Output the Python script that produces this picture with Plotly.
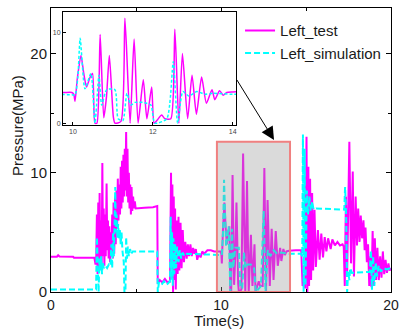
import plotly.graph_objects as go

# ---------------- data ----------------
test_time = [
    0.00, 0.35, 0.42, 0.50, 1.30, 1.35, 2.55, 2.62, 2.66,
    2.70, 2.74, 2.78, 2.82, 2.86, 2.90, 2.94, 2.98, 3.02, 3.06, 3.10, 3.14, 3.18, 3.22,
    3.27, 3.31, 3.35, 3.39, 3.43, 3.47, 3.52, 3.56, 3.60, 3.64, 3.68, 3.72, 3.77, 3.81,
    3.85, 3.89, 3.93, 3.97, 4.01, 4.06, 4.10, 4.14, 4.18, 4.22, 4.26, 4.30, 4.34, 4.38,
    4.42, 4.46, 4.50, 4.54, 4.58, 4.62, 4.66, 4.70, 4.74, 4.78, 4.83, 4.88, 4.93, 4.98,
    5.10, 5.50, 6.00, 6.25, 6.28, 6.40, 6.55, 6.70, 6.85, 6.98,
    7.00, 7.03, 7.06, 7.10, 7.14, 7.18, 7.22, 7.26, 7.30, 7.34, 7.40, 7.45, 7.50, 7.55,
    7.62, 7.68, 7.75, 7.82, 7.90, 7.98, 8.05, 8.12, 8.20, 8.28, 8.36, 8.44, 8.52, 8.60,
    8.70, 8.80, 8.90, 9.00, 9.20, 9.40, 9.60, 9.80, 9.97,
    10.02, 10.05, 10.11, 10.20, 10.27, 10.34, 10.42, 10.49, 10.55, 10.60, 10.68, 10.77,
    10.84, 10.91, 11.01, 11.05, 11.20, 11.30, 11.43, 11.53, 11.63, 11.76, 11.85, 11.97,
    12.03, 12.10, 12.22, 12.30, 12.45, 12.55, 12.65, 12.74, 12.87, 12.98, 13.09, 13.22,
    13.34, 13.48, 13.55, 13.67, 13.76, 13.85, 14.00, 14.40, 14.72,
    14.80, 14.88, 14.95, 15.03, 15.08, 15.14, 15.18, 15.24, 15.30, 15.36, 15.42, 15.50,
    15.58, 15.70, 15.80, 15.90, 16.00, 16.10, 16.20, 16.30, 16.45, 16.55, 16.70, 16.85,
    17.00, 17.15, 17.22, 17.28, 17.35, 17.42, 17.55, 17.65, 17.75, 17.82, 17.92, 18.00,
    18.07, 18.15, 18.22, 18.30, 18.38, 18.45, 18.50, 18.58, 18.65, 18.72, 18.80, 18.85,
    18.92, 18.98, 19.05, 19.12, 19.20, 19.28, 19.36, 19.44, 19.52, 19.60, 19.68, 19.76,
    19.85, 19.92, 20.00,
]
test_pressure = [
    2.96, 2.96, 3.08, 2.97, 2.95, 2.87, 2.87, 2.3, 2.9,
    6.5, 1.5, 7.5, 1.8, 8.3, 2.5, 6.0, 2.0, 10.8, 3.0, 7.0, 2.2, 6.5, 3.0,
    9.1, 3.5, 6.0, 2.8, 5.5, 2.5, 5.0, 3.0, 6.5, 2.8, 7.5, 3.2, 8.0, 4.0,
    8.5, 5.5, 9.5, 6.0, 9.0, 6.5, 10.5, 7.0, 11.0, 7.5, 11.5, 8.0, 12.0, 8.5,
    13.4, 8.0, 12.0, 7.5, 10.0, 7.0, 9.0, 6.5, 8.8, 6.8, 8.0, 7.0, 7.6, 7.0,
    7.0, 7.05, 7.1, 7.2, 0.7, 1.0, 0.8, 1.1, 0.8, 0.9,
    0.8, 4.0, 10.0, 2.0, 9.0, 0.0, 8.0, 1.0, 7.0, 0.2, 6.0, 1.5, 6.3, 1.8,
    5.8, 2.0, 5.2, 2.5, 4.2, 2.8, 4.0, 3.0, 4.0, 3.0, 3.7, 3.2, 3.6, 2.7,
    3.2, 2.9, 3.4, 3.2, 3.5, 3.5, 3.4, 3.4, 3.4,
    3.2, 2.4, 5.0, 7.5, 5.5, 4.0, 5.0, 5.5, 0.0, 0.0, 9.8, 0.6,
    3.0, 7.5, 0.7, 0.0, 0.2, 11.6, 0.0, 9.3, 0.0, 4.8, 0.5, 4.0,
    0.0, 0.3, 0.9, 0.5, 0.5, 10.4, 0.0, 7.7, 0.5, 5.3, 1.0, 5.1,
    2.2, 3.7, 2.6, 3.6, 3.1, 3.4, 3.45, 3.5, 3.5,
    0.5, 1.0, 0.3, 13.0, 0.0, 10.5, 0.5, 9.5, 1.0, 8.3, 1.8, 6.9,
    2.1, 5.2, 2.7, 4.9, 2.9, 4.6, 3.4, 4.5, 3.6, 4.4, 3.9, 4.2,
    3.9, 4.0, 3.8, 0.5, 8.0, 1.5, 12.6, 2.4, 10.1, 1.3, 8.0, 3.9,
    7.0, 4.2, 6.4, 4.5, 6.0, 3.5, 5.4, 2.5, 4.0, 0.5, 3.0, 0.4,
    5.1, 0.5, 4.5, 1.0, 3.7, 1.0, 3.0, 1.2, 3.4, 1.5, 2.7, 1.6,
    2.4, 1.8, 2.0,
]

sim_time = [
    0.00, 2.65,
    2.70, 2.75, 2.80, 2.85, 2.90, 2.95, 3.00, 3.05, 3.10, 3.20, 3.30, 3.40, 3.50,
    3.55, 3.60, 3.65, 3.70, 3.78, 3.82, 3.86, 3.90, 3.95, 4.00, 4.05, 4.10, 4.15,
    4.20, 4.28, 4.32, 4.38, 4.42, 4.47, 4.52, 4.58, 4.65, 4.72, 4.80, 5.00, 6.25,
    6.28, 6.35, 6.50, 6.65, 6.80, 6.95,
    7.00, 7.04, 7.08, 7.12, 7.16, 7.20, 7.25, 7.30, 7.36, 7.42, 7.50, 7.58, 7.66,
    7.75, 7.85, 8.00, 9.00, 9.97,
    10.05, 10.12, 10.18, 10.30, 10.45, 10.55, 10.65, 10.72, 10.84, 11.05, 11.13,
    11.25, 11.35, 11.45, 11.55, 11.75, 11.95, 12.05, 12.35, 12.51, 12.62, 12.75,
    12.90, 13.10, 13.30, 13.50, 14.00, 14.70,
    14.78, 14.82, 14.86, 14.92, 14.97, 15.05, 15.12, 15.20, 15.28, 15.35, 15.45,
    15.60, 17.20, 17.25, 17.30, 17.36, 17.42, 17.48, 17.55, 17.60, 17.70, 18.60,
    18.75, 18.82, 18.88, 18.95, 19.02, 19.10, 19.18, 19.28, 19.40, 19.55, 19.75, 20.00,
]
sim_pressure = [
    0.2, 0.2,
    4.6, 2.5, 0.0, 2.8, 1.8, 3.0, 1.5, 2.5, 2.0, 2.2, 2.0, 2.3, 2.2,
    4.0, 2.0, 5.0, 3.0, 8.8, 5.0, 6.5, 4.5, 5.7, 4.5, 5.2, 4.0, 5.0,
    3.5, 2.5, 0.0, 0.0, 4.6, 2.8, 3.8, 3.0, 3.6, 3.2, 3.4, 3.4, 3.4,
    0.0, 0.8, 0.6, 0.9, 0.6, 0.8,
    0.9, 6.3, 1.0, 5.0, 0.5, 4.5, 1.5, 4.0, 2.0, 3.8, 2.5, 3.5, 2.8,
    3.3, 3.0, 3.2, 3.15, 3.15,
    3.1, 5.0, 9.4, 3.8, 5.5, 0.0, 5.3, 2.0, 3.7, 3.7, 0.5,
    0.3, 3.3, 2.0, 2.3, 2.3, 2.0, 0.0, 0.5, 6.8, 0.0, 3.5,
    3.0, 3.5, 3.2, 3.3, 3.2, 3.2,
    3.0, 13.2, 0.0, 12.0, 0.5, 8.5, 6.5, 8.0, 6.8, 7.6, 6.9,
    7.0, 6.95, 6.9, 8.8, 6.5, 0.0, 1.7, 1.0, 2.0, 1.6, 1.65,
    1.7, 3.5, 0.2, 3.0, 0.5, 2.5, 1.3, 2.2, 1.7, 2.0, 1.9, 2.0,
]

series_names = ["Left_test", "Left_simulation"]
x_ticks = [0, 10, 20]
y_ticks = [0, 10, 20]
inset_x_ticks = [10, 12, 14]
inset_y_ticks = [0, 10]

MAGENTA = "#ff00ff"
CYAN = "#00ffff"
FONT = "Liberation Sans, Arial, sans-serif"

fig = go.Figure()

# main traces
fig.add_trace(go.Scatter(x=test_time, y=test_pressure, mode="lines", name=series_names[0],
                         line=dict(color=MAGENTA, width=2), xaxis="x", yaxis="y"))
fig.add_trace(go.Scatter(x=sim_time, y=sim_pressure, mode="lines", name=series_names[1],
                         line=dict(color=CYAN, width=2, dash="6px,3px"), xaxis="x", yaxis="y"))
# inset traces (same data, zoomed axes)
fig.add_trace(go.Scatter(x=test_time, y=test_pressure, mode="lines", showlegend=False,
                         line=dict(color=MAGENTA, width=1.5, shape="spline", smoothing=0.6),
                         xaxis="x2", yaxis="y2"))
fig.add_trace(go.Scatter(x=sim_time, y=sim_pressure, mode="lines", showlegend=False,
                         line=dict(color=CYAN, width=1.5, dash="3px,2px", shape="spline",
                                   smoothing=0.6),
                         xaxis="x2", yaxis="y2"))

axis_common = dict(showline=True, linecolor="black", linewidth=1, showgrid=False,
                   zeroline=False, ticks="inside", tickcolor="black", automargin=False)

fig.update_layout(
    width=404, height=331,
    margin=dict(l=51, r=13, t=8, b=39),
    paper_bgcolor="white", plot_bgcolor="white",
    font=dict(family=FONT, color="#1a1a1a"),
    xaxis=dict(domain=[0, 1], range=[0, 20], tickvals=x_ticks, ticklen=5, mirror="ticks",
               tickfont=dict(size=14),
               minor=dict(tickvals=[5, 15], ticks="inside", ticklen=3, tickcolor="black"),
               **axis_common),
    yaxis=dict(domain=[0, 1], range=[0, 23.8], tickvals=y_ticks, ticklen=5, mirror="ticks",
               tickfont=dict(size=15),
               minor=dict(tickvals=[5, 15], ticks="inside", ticklen=3, tickcolor="black"),
               **axis_common),
    xaxis2=dict(domain=[0.0353, 0.544], anchor="y2", range=[9.75, 14.08], tickvals=inset_x_ticks,
                ticklen=3, mirror=True, tickfont=dict(size=7, color="#444"), **axis_common),
    yaxis2=dict(domain=[0.588, 0.986], anchor="x2", range=[-0.2, 12.3], tickvals=inset_y_ticks,
                ticklen=3, mirror=True, tickfont=dict(size=7, color="#444"), **axis_common),
    legend=dict(x=0.556, y=0.978, xanchor="left", yanchor="top", bgcolor="rgba(0,0,0,0)",
                borderwidth=0, font=dict(size=15, color="#1a1a1a"), tracegroupgap=0),
    showlegend=True,
)

# highlighted zoom region (drawn above the traces, semi-transparent)
fig.add_shape(type="rect", xref="x", yref="y", x0=9.76, x1=14.06, y0=0, y1=12.6,
              line=dict(color="#f08080", width=2), fillcolor="rgba(150,150,150,0.35)",
              layer="above")

# arrow from inset to region
fig.add_annotation(x=13.12, y=12.74, ax=10.88, ay=17.9, xref="x", yref="y",
                   axref="x", ayref="y", showarrow=True, arrowhead=2, arrowsize=2.6,
                   arrowwidth=1, arrowcolor="black", text="")

# axis titles
fig.add_annotation(text="Time(s)", xref="paper", yref="paper", x=(219 - 51) / 340,
                   y=(292 - 320) / 284, showarrow=False, font=dict(size=15),
                   xanchor="center", yanchor="middle")
fig.add_annotation(text="Pressure(MPa)", xref="paper", yref="paper", x=(17 - 51) / 340,
                   y=(292 - 126) / 284, showarrow=False, font=dict(size=15), textangle=-90,
                   xanchor="center", yanchor="middle")

fig.write_html("out.html", config={"displayModeBar": False},
               post_script="document.body.style.margin='0';"
               "document.body.style.overflow='hidden';")
